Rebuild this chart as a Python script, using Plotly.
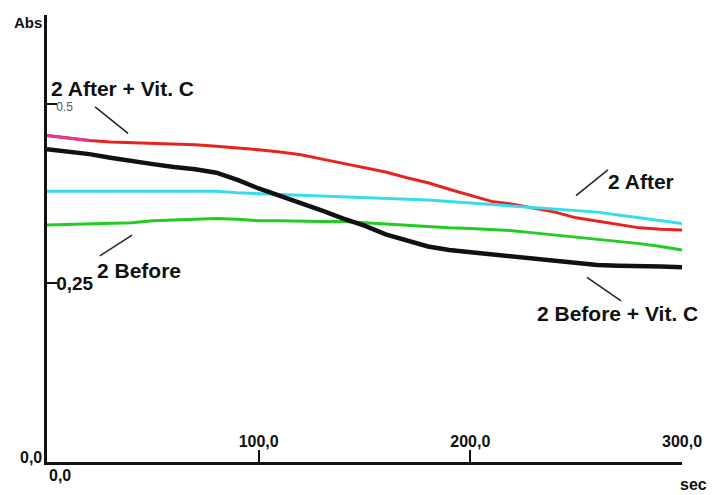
import plotly.graph_objects as go

# Time axis (seconds)
time_s = list(range(0, 301, 10))

# Absorbance readings per sample
after_vitc = [0.456, 0.452, 0.449, 0.447, 0.446, 0.446, 0.445, 0.443, 0.441, 0.439,
              0.436, 0.433, 0.429, 0.423, 0.417, 0.411, 0.405, 0.397, 0.390, 0.381,
              0.372, 0.364, 0.360, 0.355, 0.349, 0.341, 0.336, 0.332, 0.327, 0.325,
              0.324]
after = [0.378, 0.378, 0.379, 0.379, 0.379, 0.379, 0.379, 0.378, 0.378, 0.376,
         0.375, 0.374, 0.372, 0.371, 0.370, 0.369, 0.368, 0.367, 0.366, 0.364,
         0.362, 0.360, 0.358, 0.356, 0.353, 0.351, 0.349, 0.345, 0.341, 0.337,
         0.333]
before = [0.331, 0.332, 0.332, 0.333, 0.334, 0.337, 0.338, 0.339, 0.340, 0.339,
          0.337, 0.337, 0.336, 0.336, 0.336, 0.334, 0.332, 0.330, 0.328, 0.327,
          0.326, 0.325, 0.323, 0.320, 0.317, 0.314, 0.311, 0.309, 0.305, 0.301,
          0.296]
before_vitc = [0.437, 0.434, 0.430, 0.425, 0.420, 0.416, 0.412, 0.409, 0.404, 0.394,
               0.382, 0.372, 0.362, 0.351, 0.340, 0.330, 0.318, 0.309, 0.301, 0.296,
               0.293, 0.290, 0.287, 0.284, 0.281, 0.277, 0.275, 0.274, 0.274, 0.273,
               0.272]

x_ticks = [100, 200, 300]
x_tick_text = ["100,0", "200,0", "300,0"]
y_ticks = [0.25, 0.5]
y_tick_text = ["<b>0,25</b>", '<span style="font-size:12px;color:#555">0.5</span>']

FONT = "Liberation Sans, Arial, sans-serif"

fig = go.Figure()
series = [
    (after_vitc, "#e8231f", 3),
    (after, "#35dcef", 3),
    (before, "#22cc22", 3),
    (before_vitc, "#111111", 4.5),
]
for vals, col, w in series:
    fig.add_trace(go.Scatter(x=time_s, y=vals, mode="lines",
                             line=dict(color=col, width=w), showlegend=False,
                             hoverinfo="skip"))

# the first seconds of the "After + Vit. C" run are drawn in magenta
fig.add_trace(go.Scatter(x=time_s[:3], y=after_vitc[:3], mode="lines",
                         line=dict(color="#e3388c", width=3), showlegend=False,
                         hoverinfo="skip"))

label_font = dict(family=FONT, size=21, color="#111", weight="bold")

labels = [
    ("2 After + Vit. C", 35.9, 0.522),
    ("2 Before", 43.5, 0.268),
    ("2 After", 280.6, 0.392),
    ("2 Before + Vit. C", 269.3, 0.207),
]
for txt, lx, ly in labels:
    fig.add_annotation(x=lx, y=ly, text=txt, showarrow=False, font=label_font,
                       xanchor="center", yanchor="middle")

leaders = [
    (22.7, 0.496, 38.3, 0.459),
    (25.0, 0.288, 40.2, 0.317),
    (249.9, 0.372, 265.0, 0.408),
    (255.1, 0.258, 271.2, 0.225),
]
for x0, y0, x1, y1 in leaders:
    fig.add_shape(type="line", x0=x0, y0=y0, x1=x1, y1=y1, xref="x", yref="y",
                  line=dict(color="#222", width=1.5))

tick_font = dict(family=FONT, size=16, color="#111", weight="bold")

# Origin labels, unit labels
fig.add_annotation(x=0, y=0, xref="x", yref="y", text="0,0", showarrow=False,
                   font=tick_font, xanchor="right", yanchor="bottom", xshift=-3, yshift=-6)
fig.add_annotation(x=0, y=0, xref="x", yref="y", text="0,0", showarrow=False,
                   font=tick_font, xanchor="left", yanchor="top", yshift=-3)
fig.add_annotation(x=1, y=0, xref="paper", yref="y", text="sec", showarrow=False,
                   font=tick_font, xanchor="right", yanchor="top", xshift=27, yshift=-12)
fig.add_annotation(x=0, y=1, xref="paper", yref="paper", text="Abs", showarrow=False,
                   font=dict(family=FONT, size=15, color="#111", weight="bold"),
                   xanchor="right", yanchor="middle", xshift=-3, yshift=-7)

fig.update_xaxes(range=[0, 300], showgrid=False, zeroline=False,
                 showline=True, linecolor="#111", linewidth=2.5,
                 ticks="inside", ticklen=12, tickwidth=2, tickcolor="#111",
                 tickvals=x_ticks, ticktext=x_tick_text,
                 ticklabelposition="inside", ticklabeloverflow="allow",
                 tickfont=tick_font)
fig.update_yaxes(range=[0, 0.6243], showgrid=False, zeroline=False,
                 showline=True, linecolor="#111", linewidth=3,
                 ticks="inside", ticklen=10, tickwidth=2, tickcolor="#111",
                 tickvals=y_ticks, ticktext=y_tick_text,
                 ticklabelposition="inside", ticklabeloverflow="allow",
                 tickfont=dict(family=FONT, size=19, color="#111"))

fig.update_layout(width=713, height=495, margin=dict(l=47, r=31, t=15, b=33),
                  plot_bgcolor="white", paper_bgcolor="white")

fig.write_html("out.html")
